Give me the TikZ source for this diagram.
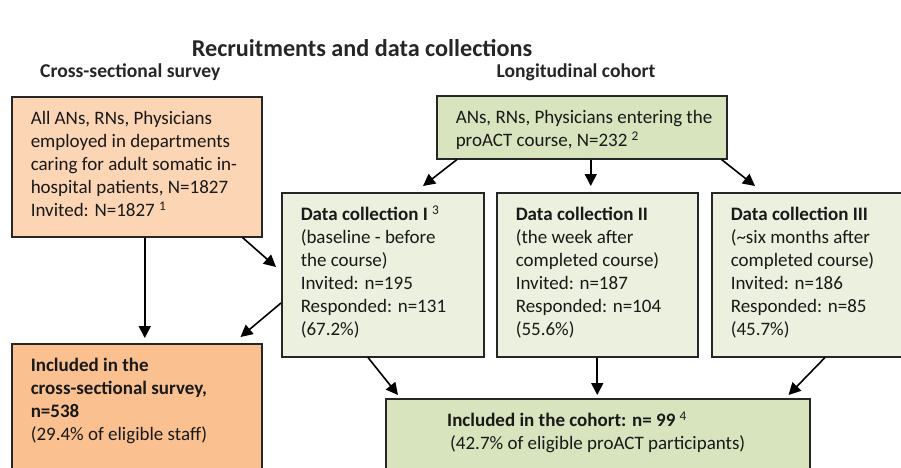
\documentclass[tikz,border=0pt]{standalone}
\usepackage{fontspec}
\setmainfont{Carlito}
\usetikzlibrary{arrows.meta}
\definecolor{peachlight}{HTML}{FCD5B5}
\definecolor{peachdark}{HTML}{FAC090}
\definecolor{olivelight}{HTML}{EBF1DE}
\definecolor{olivemid}{HTML}{D7E4BD}
\definecolor{inkline}{HTML}{262626}
\newcommand{\bodyfont}{\fontsize{19}{23}\selectfont}
\newcommand{\boxlines}[3]{\begin{minipage}[t][#1][t]{#2}\leftskip=19pt\rightskip=0pt plus 1fil\parindent=0pt\strut#3\end{minipage}}
\newcommand{\boxcentre}[3]{\begin{minipage}[t][#1][t]{#2}\leftskip=0pt plus 1fil\rightskip=0pt plus 1fil\parfillskip=0pt\parindent=0pt\strut#3\end{minipage}}
\tikzset{heading/.style={inner sep=0pt,text=inkline,font=\fontsize{19.6}{23}\selectfont\bfseries},
         box/.style={draw=inkline,line width=1.5pt,anchor=north west,inner xsep=0pt,inner ysep=12pt,
                     text=black!90,font=\bodyfont},
         arr/.style={draw=black,line width=1.6pt,-{Triangle[length=12pt,width=12pt]}}}

\begin{document}
\begin{tikzpicture}[x=1pt,y=-1pt]
\useasboundingbox (0,0) rectangle (901,467);
\clip (0,0) rectangle (901,467);
% headings
\node[heading,font=\fontsize{24.2}{28}\selectfont\bfseries] (title) at (362,48) {Recruitments and data collections};
\node[heading,anchor=west] (crosshead) at (40,72) {Cross-sectional survey};
\node[heading] (longhead) at (576,72) {Longitudinal cohort};
% cross-sectional survey
\node[box,fill=peachlight] (all) at (11,96) {\boxlines{116pt}{250pt}{All ANs, RNs, Physicians\\ employed in departments\\ caring for adult somatic in-\\ hospital patients, N=1827\\ Invited: N=1827 \textsuperscript{1}}};
\node[box,fill=peachdark] (cross) at (11,343) {\boxlines{116pt}{250pt}{\textbf{Included in the}\\ \textbf{cross-sectional survey,}\\ \textbf{n=538}\\ (29.4\% of eligible staff)}};
% longitudinal cohort
\node[box,fill=olivemid] (entry) at (436,95) {\boxlines{39pt}{290pt}{ANs, RNs, Physicians entering the\\ proACT course, N=232 \textsuperscript{2}}};
\node[box,fill=olivelight] (dc1) at (281,192) {\boxlines{140pt}{202pt}{\textbf{Data collection I} \textsuperscript{3}\\ (baseline - before\\ the course)\\ Invited: n=195\\ Responded: n=131\\ (67.2\%)}};
\node[box,fill=olivelight] (dc2) at (496,192) {\boxlines{140pt}{201pt}{\textbf{Data collection II}\\ (the week after\\ completed course)\\ Invited: n=187\\ Responded: n=104\\ (55.6\%)}};
\node[box,fill=olivelight] (dc3) at (711,192) {\boxlines{140pt}{202pt}{\textbf{Data collection III}\\ (\textasciitilde six months after\\ completed course)\\ Invited: n=186\\ Responded: n=85\\ (45.7\%)}};
\node[box,fill=olivemid] (cohort) at (385,398) {\boxcentre{70pt}{424pt}{\textbf{Included in the cohort: n= 99} \textsuperscript{4}\\ (42.7\% of eligible proACT participants)}};
% arrows
\draw[arr,shorten >=5pt] ([xshift=8pt]all.south) -- ([xshift=8pt]cross.north);
\draw[arr] ([xshift=-20pt]all.south east) -- ([xshift=-5pt,yshift=-75pt]dc1.north west);
\draw[arr] ([yshift=-111pt]dc1.north west) -- ([xshift=-22pt,yshift=6pt]cross.north east);
\draw[arr] ([xshift=21pt]entry.south west) -- ([xshift=142pt,yshift=6pt]dc1.north west);
\draw[arr,shorten >=6pt] ([xshift=9pt]entry.south) -- ([xshift=9pt]entry.south |- dc2.north);
\draw[arr] ([xshift=-6pt]entry.south east) -- ([xshift=44pt,yshift=6pt]dc3.north west);
\draw[arr] ([xshift=87pt]dc1.south west) -- ([xshift=13pt,yshift=3pt]cohort.north west);
\draw[arr,shorten >=3pt] (dc2.south) -- (dc2.south |- cohort.north);
\draw[arr] ([xshift=114pt]dc3.south west) -- ([xshift=-22pt,yshift=3pt]cohort.north east);
\end{tikzpicture}
\end{document}
